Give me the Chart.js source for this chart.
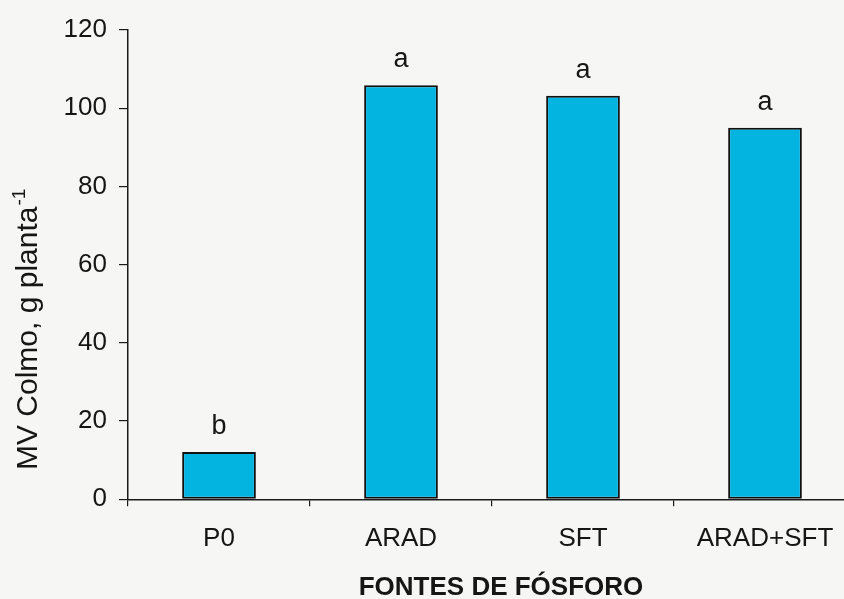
<!DOCTYPE html>
<html>
<head>
<meta charset="utf-8">
<script src="https://cdn.jsdelivr.net/npm/chart.js@4/dist/chart.umd.min.js"></script>
<style>
  html, body { margin: 0; padding: 0; background: #f6f6f4; overflow: hidden; width: 844px; height: 599px; }
  canvas { display: block; }
</style>
</head>
<body>
<canvas id="chart" width="856" height="610" style="width:856px;height:610px"></canvas>
<script>
// Stem fresh mass by phosphorus source
const categories = ['P0', 'ARAD', 'SFT', 'ARAD+SFT'];
const massValues = [12.1, 105.9, 103.2, 95.0];
const groupLetters = ['b', 'a', 'a', 'a'];
const yTicks = [0, 20, 40, 60, 80, 100, 120];
const yTitle = 'MV Colmo, g planta';
const yTitleSup = '-1';
const xTitle = 'FONTES DE FÓSFORO';

const FONT = "'Liberation Sans', Arial, Helvetica, sans-serif";
const INK = '#161616';

// Letters of the mean comparison test above each bar, plus axis titles
const annotations = {
  id: 'annotations',
  afterDatasetsDraw(chart) {
    const ctx = chart.ctx;
    const meta = chart.getDatasetMeta(0);
    ctx.save();
    ctx.fillStyle = INK;
    ctx.font = `27px ${FONT}`;
    ctx.textAlign = 'center';
    ctx.textBaseline = 'alphabetic';
    meta.data.forEach((bar, i) => {
      ctx.fillText(groupLetters[i], bar.x, bar.y - 18);
    });

    // x axis title
    ctx.font = `bold 26px ${FONT}`;
    ctx.textBaseline = 'middle';
    ctx.fillText(xTitle, 501, 588);

    // y axis title, rotated, with superscript exponent
    ctx.translate(37, 470);
    ctx.rotate(-Math.PI / 2);
    ctx.textAlign = 'left';
    ctx.textBaseline = 'alphabetic';
    ctx.font = `30px ${FONT}`;
    ctx.fillText(yTitle, 0, 0);
    const w = ctx.measureText(yTitle).width;
    ctx.font = `19px ${FONT}`;
    ctx.fillText(yTitleSup, w + 1, -12);
    ctx.restore();
  }
};

new Chart(document.getElementById('chart'), {
  type: 'bar',
  data: {
    labels: categories,
    datasets: [{
      data: massValues,
      backgroundColor: '#04b4e0',
      borderColor: '#111111',
      borderWidth: 2,
      borderSkipped: false,
      categoryPercentage: 1,
      barPercentage: 0.405
    }]
  },
  options: {
    responsive: false,
    devicePixelRatio: 1,
    animation: false,
    layout: { padding: { top: 30, left: 0, right: 0, bottom: 0 } },
    plugins: { legend: { display: false }, tooltip: { enabled: false } },
    scales: {
      x: {
        offset: true,
        afterFit(scale) { scale.height = 110.7; },
        border: { display: true, color: '#1a1a1a', width: 1.5 },
        grid: { display: true, offset: true, drawOnChartArea: false, drawTicks: true, tickLength: 7, color: '#1a1a1a', lineWidth: 1.2 },
        ticks: { color: INK, padding: 17, font: { family: FONT, size: 26 } }
      },
      y: {
        min: yTicks[0],
        max: yTicks[yTicks.length - 1],
        afterFit(scale) { scale.width = 128; },
        afterBuildTicks(scale) { scale.ticks = yTicks.map(v => ({ value: v })); },
        border: { display: true, color: '#1a1a1a', width: 1.5 },
        grid: { display: true, drawOnChartArea: false, drawTicks: true, tickLength: 9, color: '#1a1a1a', lineWidth: 1.2 },
        ticks: { color: INK, padding: 12, font: { family: FONT, size: 26 } }
      }
    }
  },
  plugins: [annotations]
});
</script>
</body>
</html>
